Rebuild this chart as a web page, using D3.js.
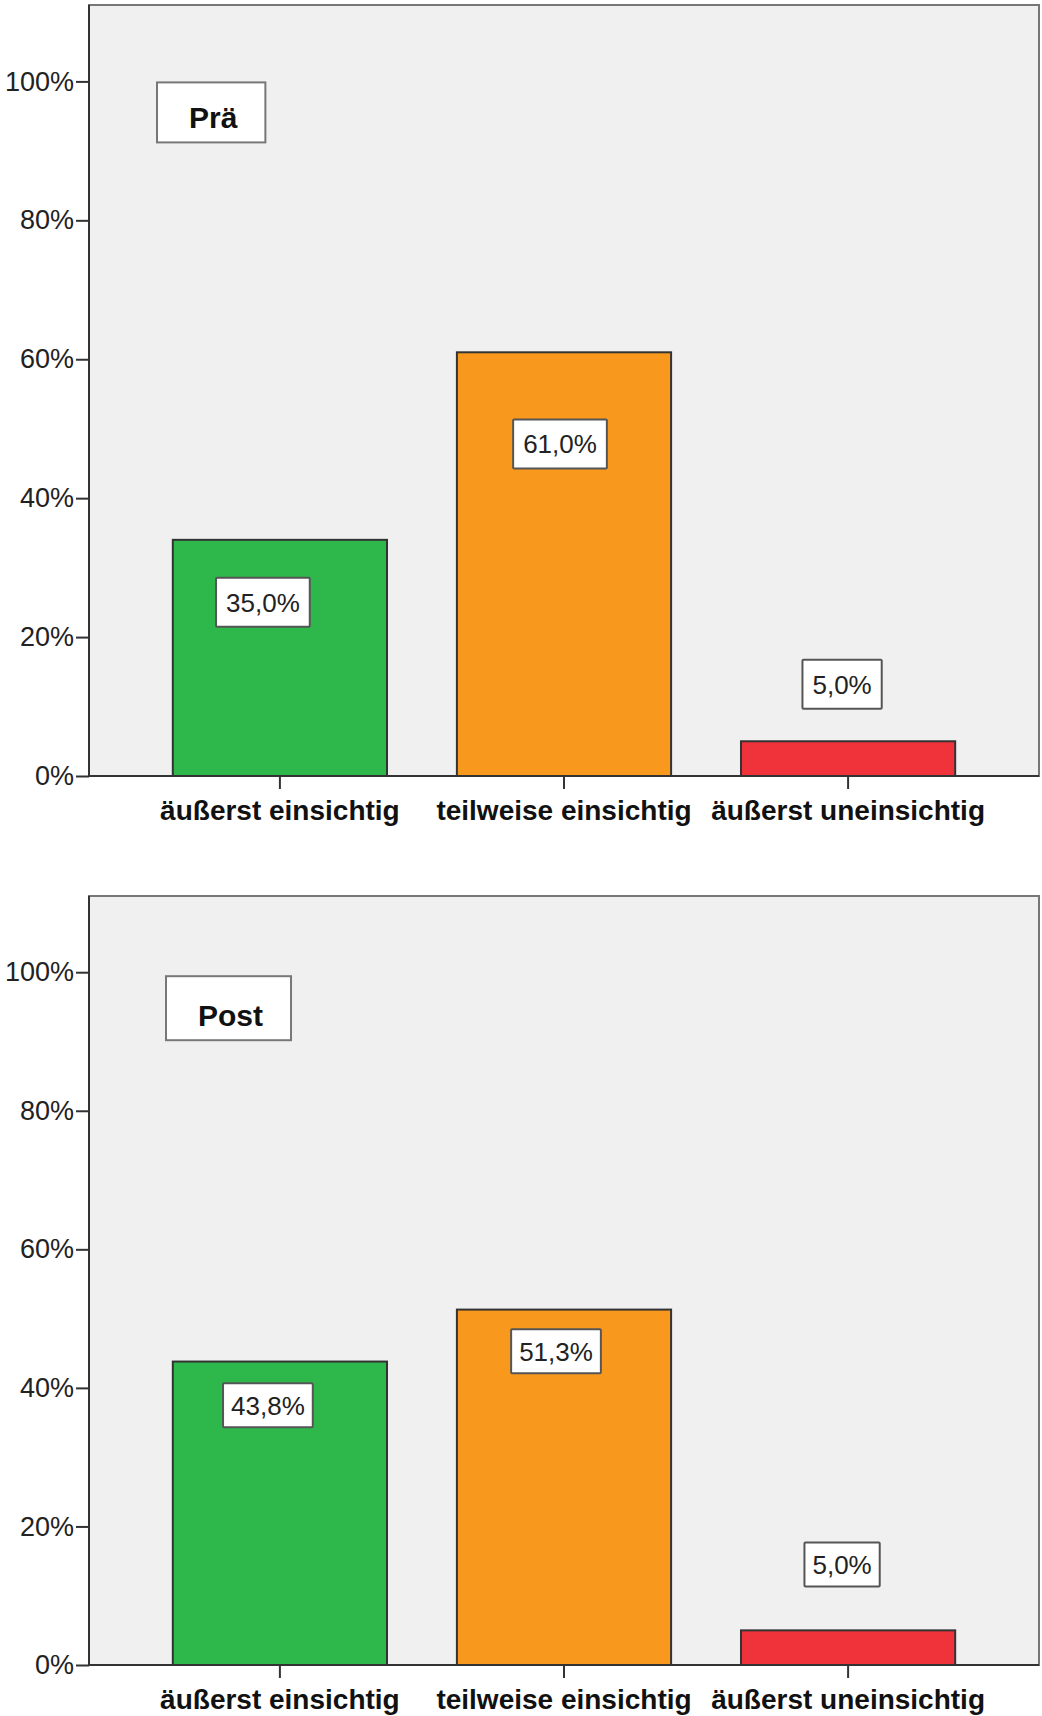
<!DOCTYPE html>
<html>
<head>
<meta charset="utf-8">
<script src="https://cdn.jsdelivr.net/npm/d3@7"></script>
<style>
  body { margin: 0; background: #fff; }
  svg { display: block; font-family: Arial, "Liberation Sans", sans-serif; }
</style>
</head>
<body>
<div id="chart"></div>
<script>
// ////////////////////////////////////////////////////////////////////////////
// DATA
// ////////////////////////////////////////////////////////////////////////////
const categories = ['äußerst einsichtig', 'teilweise einsichtig', 'äußerst uneinsichtig'];
const yTicks = [0, 20, 40, 60, 80, 100];

const preValues = [34.0, 61.0, 5.0];
const preLabels = [35.0, 61.0, 5.0];

const postValues = [43.8, 51.3, 5.0];
const postLabels = [43.8, 51.3, 5.0];

const barColors = ['#2eb84b', '#f8991e', '#f0323a'];

// ////////////////////////////////////////////////////////////////////////////
// LAYOUT
// ////////////////////////////////////////////////////////////////////////////
const W = 1042;
const H = 1716;
const plotLeft = 89;
const plotRight = 1039;

// label box centers (in % units) and horizontal nudges, like spss places them
const panels = [
  {
    title: 'Prä', values: preValues, labels: preLabels, top: 5, zero: 776,
    titleX: 157, titleDy: 1, titleH: 60, boxH: 49, boxPad: 10,
    labelPos: [{ v: 25.0, dx: -17 }, { v: 47.8, dx: -4 }, { v: 13.2, dx: -6 }],
  },
  {
    title: 'Post', values: postValues, labels: postLabels, top: 896, zero: 1665,
    titleX: 166, titleDy: 4, titleH: 64, boxH: 44, boxPad: 8,
    labelPos: [{ v: 37.5, dx: -12 }, { v: 45.3, dx: -8 }, { v: 14.5, dx: -6 }],
  },
];

const fmt = d3.formatLocale({ decimal: ',', thousands: '.', grouping: [3], currency: ['', '€'] }).format('.1f');

const svg = d3.select('#chart').append('svg')
  .attr('width', W)
  .attr('height', H);

const x = d3.scaleBand()
  .domain(categories)
  .range([plotLeft, plotRight])
  .paddingInner(0.246)
  .paddingOuter(0.295);

// ////////////////////////////////////////////////////////////////////////////
// BUILD EACH PANEL
// ////////////////////////////////////////////////////////////////////////////
panels.forEach((p) => {
  const y = d3.scaleLinear()
    .domain([0, 111])
    .range([p.zero, p.top]);

  const g = svg.append('g');

  // plot background + frame
  g.append('rect')
    .attr('x', plotLeft)
    .attr('y', p.top)
    .attr('width', plotRight - plotLeft)
    .attr('height', p.zero - p.top)
    .attr('fill', '#f0f0f0')
    .attr('stroke', '#777')
    .attr('stroke-width', 2);

  // bars
  g.selectAll('.bar')
    .data(p.values)
    .enter().append('rect')
      .attr('class', 'bar')
      .attr('x', (d, i) => x(categories[i]))
      .attr('y', d => y(d))
      .attr('width', x.bandwidth())
      .attr('height', d => y(0) - y(d))
      .attr('fill', (d, i) => barColors[i])
      .attr('stroke', '#333')
      .attr('stroke-width', 2);

  // y axis
  const yAxis = g.append('g')
    .attr('transform', `translate(${plotLeft},0)`)
    .call(d3.axisLeft(y).tickValues(yTicks).tickSize(13).tickPadding(2).tickFormat(d => `${d}%`));
  yAxis.select('.domain')
    .attr('d', `M0,${p.top}V${p.zero}`)
    .attr('stroke', '#333')
    .attr('stroke-width', 2);
  yAxis.selectAll('.tick line').attr('stroke', '#333').attr('stroke-width', 2);
  yAxis.selectAll('.tick text')
    .attr('font-size', 27)
    .attr('fill', '#222')
    .attr('font-family', 'Arial, "Liberation Sans", sans-serif');

  // x axis
  const xAxis = g.append('g')
    .attr('transform', `translate(0,${p.zero})`)
    .call(d3.axisBottom(x).tickSize(13).tickPadding(11));
  xAxis.select('.domain')
    .attr('d', `M${plotLeft},0H${plotRight}`)
    .attr('stroke', '#333')
    .attr('stroke-width', 2);
  xAxis.selectAll('.tick line').attr('stroke', '#333').attr('stroke-width', 2);
  xAxis.selectAll('.tick text')
    .attr('font-size', 28)
    .attr('font-weight', 'bold')
    .attr('fill', '#111')
    .attr('font-family', 'Arial, "Liberation Sans", sans-serif');

  // value labels
  const lab = g.selectAll('.value-label')
    .data(p.labels)
    .enter().append('g')
      .attr('class', 'value-label')
      .attr('transform', (d, i) => {
        const cx = x(categories[i]) + x.bandwidth() / 2 + p.labelPos[i].dx;
        return `translate(${cx},${y(p.labelPos[i].v)})`;
      });

  lab.append('rect').attr('class', 'label-box');
  lab.append('text')
    .attr('text-anchor', 'middle')
    .attr('dy', '0.36em')
    .attr('font-size', 26)
    .attr('fill', '#222')
    .text(d => `${fmt(d)}%`);

  lab.each(function () {
    const node = d3.select(this);
    const w = node.select('text').node().getComputedTextLength();
    node.select('rect')
      .attr('x', -(w / 2) - p.boxPad)
      .attr('y', -p.boxH / 2)
      .attr('width', w + 2 * p.boxPad)
      .attr('height', p.boxH)
      .attr('fill', '#fff')
      .attr('stroke', '#555')
      .attr('stroke-width', 2)
      .attr('rx', 1);
  });

  // panel title box
  const t = g.append('g')
    .attr('transform', `translate(${p.titleX},${y(100) + p.titleDy})`);
  const tb = t.append('rect');
  const tt = t.append('text')
    .attr('y', p.titleH - 14)
    .attr('font-size', 30)
    .attr('font-weight', 'bold')
    .attr('fill', '#111')
    .text(p.title);
  const tw = tt.node().getComputedTextLength();
  tt.attr('x', 32);
  tb.attr('width', tw + 60)
    .attr('height', p.titleH)
    .attr('fill', '#fff')
    .attr('stroke', '#777')
    .attr('stroke-width', 2);
});
</script>
</body>
</html>
